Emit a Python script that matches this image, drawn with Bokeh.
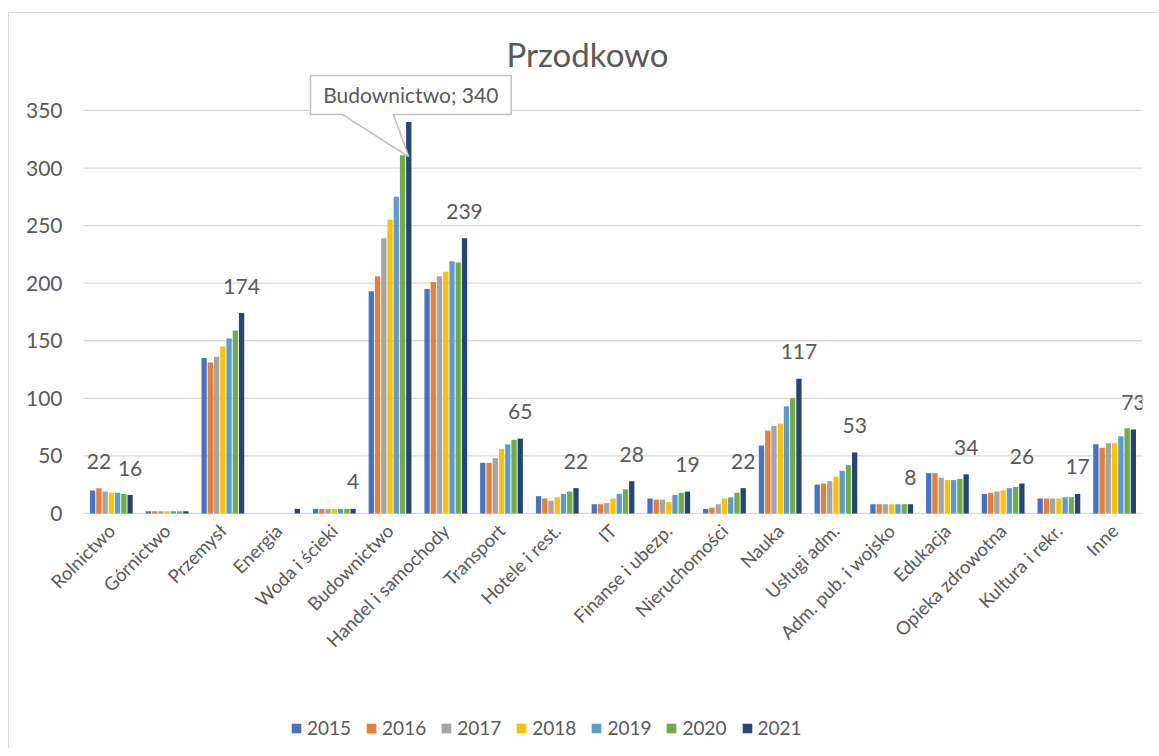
import math
from bokeh.plotting import figure
from bokeh.models import Range1d, FixedTicker, Legend, LegendItem, ColumnDataSource
from bokeh.transform import dodge
from bokeh.core.properties import value
from bokeh.embed import file_html
from bokeh.resources import INLINE

# ---------------- data ----------------
categories = ["Rolnictwo", "Górnictwo", "Przemysł", "Energia", "Woda i ścieki",
              "Budownictwo", "Handel i samochody", "Transport", "Hotele i rest.", "IT",
              "Finanse i ubezp.", "Nieruchomości", "Nauka", "Usługi adm.",
              "Adm. pub. i wojsko", "Edukacja", "Opieka zdrowotna", "Kultura i rekr.", "Inne"]
years = ["2015", "2016", "2017", "2018", "2019", "2020", "2021"]
v2015 = [20, 2, 135, 0, 4, 193, 195, 44, 15, 8, 13, 4, 59, 25, 8, 35, 17, 13, 60]
v2016 = [22, 2, 131, 0, 4, 206, 201, 44, 13, 8, 12, 5, 72, 26, 8, 35, 18, 13, 57]
v2017 = [19, 2, 136, 0, 4, 239, 206, 48, 11, 9, 12, 8, 76, 28, 8, 31, 19, 13, 61]
v2018 = [18, 2, 145, 0, 4, 255, 210, 56, 14, 13, 10, 13, 78, 32, 8, 29, 20, 13, 61]
v2019 = [18, 2, 152, 0, 4, 275, 219, 60, 17, 17, 16, 14, 93, 37, 8, 29, 22, 14, 67]
v2020 = [17, 2, 159, 0, 4, 311, 218, 64, 19, 21, 18, 18, 100, 42, 8, 30, 23, 14, 74]
v2021 = [16, 2, 174, 4, 4, 340, 239, 65, 22, 28, 19, 22, 117, 53, 8, 34, 26, 17, 73]
series = [v2015, v2016, v2017, v2018, v2019, v2020, v2021]
colors = ["#4472C4", "#ED7D31", "#A5A5A5", "#FFC000", "#5B9BD5", "#70AD47", "#264478"]
y_ticks = [0, 50, 100, 150, 200, 250, 300, 350]
# categories whose 2021 bar carries a data label
labelled_2021 = ["Rolnictwo", "Przemysł", "Woda i ścieki", "Handel i samochody", "Transport",
                 "Hotele i rest.", "IT", "Finanse i ubezp.", "Nieruchomości", "Nauka",
                 "Usługi adm.", "Adm. pub. i wojsko", "Edukacja", "Opieka zdrowotna",
                 "Kultura i rekr.", "Inne"]
# extra single label (category, year index)
extra_label = ("Rolnictwo", 1)
callout_cat = "Budownictwo"
callout_year = 6

TXT = "#595959"
GRID = "#d9d9d9"
FONT = "Lato"
pitch = 0.112
bar_w = 0.095
n = len(categories)

idx = list(range(n))
data = {"x": idx}
for y, s in zip(years, series):
    data[y] = s
src = ColumnDataSource(data)

# the frame covers the whole figure below the title; both axes sit at fixed places inside it
p = figure(width=1149, height=736, x_range=Range1d(-1.8276, n - 0.5),
           y_range=Range1d(-205.0, 382.1), output_backend="svg", toolbar_location=None,
           min_border_left=0, min_border_right=16, min_border_top=60, min_border_bottom=0)
p.styles = {"border-left": "1.5px solid #d9d9d9", "border-top": "1.5px solid #d9d9d9",
            "margin-top": "12px", "margin-left": "8px"}
p.outline_line_color = None
p.background_fill_color = "white"
p.border_fill_color = "white"

p.title.text = "Przodkowo"
p.title.align = "left"
p.title.offset = 497
p.title.standoff = 0
p.title.text_font = FONT
p.title.text_font_size = "33px"
p.title.text_font_style = "normal"
p.title.text_color = TXT

# horizontal gridlines limited to the category span
p.xgrid.grid_line_color = None
p.ygrid.grid_line_color = None
p.segment(x0=[-0.5] * len(y_ticks), x1=[n - 0.5] * len(y_ticks), y0=y_ticks, y1=y_ticks,
          line_color=GRID, line_width=1.3)

p.yaxis.fixed_location = -0.5
p.yaxis.ticker = FixedTicker(ticks=y_ticks)
p.yaxis.axis_line_color = None
p.yaxis.major_tick_line_color = None
p.yaxis.minor_tick_line_color = None
p.yaxis.major_tick_in = 0
p.yaxis.major_tick_out = 0
p.yaxis.major_label_standoff = 21
p.yaxis.major_label_text_font = FONT
p.yaxis.major_label_text_font_size = "21px"
p.yaxis.major_label_text_color = TXT

p.xaxis.fixed_location = 0
p.xaxis.ticker = FixedTicker(ticks=idx)
p.xaxis.major_label_overrides = {i: c for i, c in enumerate(categories)}
p.xaxis.major_label_orientation = math.pi / 4
p.xaxis.axis_line_color = None
p.xaxis.major_tick_line_color = None
p.xaxis.minor_tick_line_color = None
p.xaxis.major_tick_in = 0
p.xaxis.major_tick_out = 0
p.xaxis.major_label_standoff = 14
p.xaxis.major_label_text_font = FONT
p.xaxis.major_label_text_font_size = "18.5px"
p.xaxis.major_label_text_color = TXT

items = []
for j, (yr, col) in enumerate(zip(years, colors)):
    r = p.vbar(x=dodge("x", (j - 3) * pitch, range=p.x_range), top=yr, width=bar_w,
               source=src, fill_color=col, line_color=None)
    items.append(LegendItem(label=yr, renderers=[r]))

# data labels
lx, ly, lt = [], [], []
for c in labelled_2021:
    i = categories.index(c)
    lx.append(i + 3 * pitch)
    ly.append(v2021[i])
    lt.append(str(v2021[i]))
ei = categories.index(extra_label[0])
lx.append(ei + (extra_label[1] - 3) * pitch)
ly.append(series[extra_label[1]][ei])
lt.append(str(series[extra_label[1]][ei]))
p.text(x=lx, y=ly, text=lt, text_align="center", text_baseline="alphabetic", y_offset=-27,
       text_font=value(FONT), text_font_size="21px", text_color=TXT)

# callout for Budownictwo
ci = categories.index(callout_cat)
cv = series[callout_year][ci]
bx0, bx1 = ci - 1.427, ci + 2.173
by0, by1 = cv + 6.5, cv + 40.4
tip = (ci + 0.336, cv - 30.2)
p.patch(x=[bx0, bx1, bx1, ci + 0.062, tip[0], ci - 0.859, bx0],
        y=[by1, by1, by0, by0, tip[1], by0, by0],
        fill_color="white", line_color="#bfbfbf", line_width=1.5)
p.text(x=[ci + 0.372], y=[cv + 16], text=[f"{callout_cat}; {cv}"], text_align="center",
       text_baseline="alphabetic", y_offset=-9, text_font=value(FONT), text_font_size="21px",
       text_color=TXT)

legend = Legend(items=items, location=(281, 10), orientation="horizontal",
                glyph_width=12, glyph_height=12, label_standoff=5, spacing=14,
                padding=0, margin=0, border_line_color=None, background_fill_alpha=0,
                label_text_font=FONT, label_text_font_size="19px", label_text_color=TXT)
p.add_layout(legend, "center")

open("out.html", "w").write(file_html(p, INLINE))
